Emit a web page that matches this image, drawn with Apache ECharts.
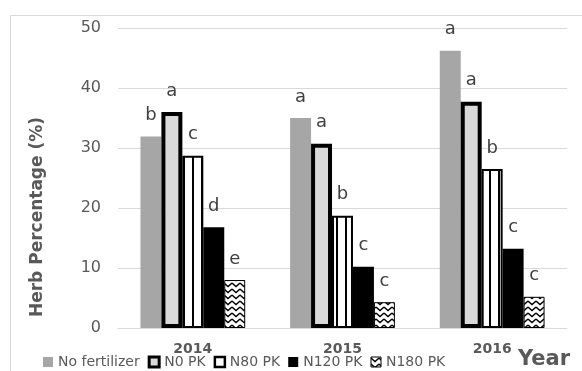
<!DOCTYPE html>
<html>
<head>
<meta charset="utf-8">
<script src="https://cdn.jsdelivr.net/npm/echarts@6/dist/echarts.min.js"></script>
<style>
  html, body { margin: 0; padding: 0; background: #fff; }
  #chart { width: 582px; height: 371px; }
</style>
</head>
<body>
<div id="chart"></div>
<script>
// Herb percentage by year and fertilizer treatment
const years = ['2014', '2015', '2016'];
const treatments = ['No fertilizer', 'N0 PK', 'N80 PK', 'N120 PK', 'N180 PK'];

const noFertilizer = [31.9, 35.0, 46.2];
const n0PK = [36.0, 30.7, 37.7];
const n80PK = [28.7, 18.7, 26.5];
const n120PK = [16.8, 10.2, 13.2];
const n180PK = [8.0, 4.3, 5.2];

// significance letters shown above each bar
const noFertilizerLetters = ['b', 'a', 'a'];
const n0PKLetters = ['a', 'a', 'a'];
const n80PKLetters = ['c', 'b', 'b'];
const n120PKLetters = ['d', 'c', 'c'];
const n180PKLetters = ['e', 'c', 'c'];

const yMin = 0, yMax = 50, yStep = 10;

const FONT = 'DejaVu Sans';
const TEXT = '#595959';

// fill patterns
function stripePattern() {
  const c = document.createElement('canvas');
  c.width = 9; c.height = 8;
  const g = c.getContext('2d');
  g.fillStyle = '#fff'; g.fillRect(0, 0, 9, 8);
  g.fillStyle = '#000'; g.fillRect(3, 0, 2, 8);
  return c;
}
function wavePattern() {
  const c = document.createElement('canvas');
  c.width = 8; c.height = 6;
  const g = c.getContext('2d');
  g.fillStyle = '#fff'; g.fillRect(0, 0, 8, 6);
  g.strokeStyle = '#000'; g.lineWidth = 1.4;
  g.beginPath();
  g.moveTo(0, 1); g.lineTo(4, 4.5); g.lineTo(8, 1);
  g.stroke();
  return c;
}
const stripes = { image: stripePattern(), repeat: 'repeat' };
const waves = { image: wavePattern(), repeat: 'repeat' };

function letterLabel(letters) {
  return {
    show: true,
    position: 'top',
    distance: 12,
    fontFamily: FONT,
    fontSize: 18,
    color: '#404040',
    formatter: p => letters[p.dataIndex]
  };
}

const styles = [
  { color: '#a6a6a6', borderColor: '#a6a6a6', borderWidth: 0 },
  { color: '#d9d9d9', borderColor: '#000', borderWidth: 4 },
  { color: stripes, borderColor: '#000', borderWidth: 2 },
  { color: '#000', borderColor: '#000', borderWidth: 0 },
  { color: waves, borderColor: '#000', borderWidth: 1 }
];
const values = [noFertilizer, n0PK, n80PK, n120PK, n180PK];
const letterSets = [noFertilizerLetters, n0PKLetters, n80PKLetters, n120PKLetters, n180PKLetters];

const legendStyles = [
  { color: '#a6a6a6', borderWidth: 0 },
  { color: '#d9d9d9', borderColor: '#000', borderWidth: 3 },
  { color: '#fff', borderColor: '#000', borderWidth: 2.5 },
  { color: '#000', borderWidth: 0 },
  { color: waves, borderColor: '#000', borderWidth: 1 }
];

const chart = echarts.init(document.getElementById('chart'), null, { renderer: 'canvas' });

chart.setOption({
  animation: false,
  backgroundColor: '#fff',
  textStyle: { fontFamily: FONT },
  grid: { left: 118, right: 15, top: 28, bottom: 43, containLabel: false },
  graphic: [
    {
      type: 'rect',
      silent: true,
      shape: { x: 10.5, y: 15.5, width: 620, height: 420 },
      style: { fill: 'none', stroke: '#d9d9d9', lineWidth: 1 },
      z: -10
    },
    {
      type: 'text',
      x: 38,
      y: 217,
      rotation: Math.PI / 2,
      style: {
        text: 'Herb Percentage (%)',
        fontFamily: FONT,
        fontSize: 17,
        fontWeight: 'bold',
        fill: TEXT,
        align: 'center',
        verticalAlign: 'middle'
      }
    }
  ],
  legend: {
    left: 41,
    top: 353,
    itemWidth: 10,
    itemHeight: 10,
    itemGap: 8,
    icon: 'rect',
    padding: 2,
    textStyle: { fontFamily: FONT, fontSize: 14, color: TEXT },
    data: treatments.map((name, i) => ({ name, itemStyle: legendStyles[i] }))
  },
  xAxis: {
    type: 'category',
    data: years,
    axisTick: { show: false },
    axisLine: { show: true, lineStyle: { color: '#d9d9d9', width: 1 } },
    axisLabel: {
      fontFamily: FONT,
      fontSize: 14,
      fontWeight: 'bold',
      color: TEXT,
      margin: 14
    },
    name: 'Year',
    nameLocation: 'end',
    nameGap: 3,
    nameTextStyle: {
      fontFamily: FONT,
      fontSize: 21,
      fontWeight: 'bold',
      color: TEXT,
      align: 'right',
      verticalAlign: 'top',
      padding: [21, 0, 0, 0]
    }
  },
  yAxis: {
    type: 'value',
    min: yMin,
    max: yMax,
    interval: yStep,
    axisLine: { show: false },
    axisTick: { show: false },
    axisLabel: { fontFamily: FONT, fontSize: 16, color: TEXT, margin: 17 },
    splitLine: { lineStyle: { color: '#d9d9d9', width: 1 } }
  },
  series: treatments.map((name, i) => ({
    name,
    type: 'bar',
    data: values[i],
    barGap: '0%',
    barCategoryGap: '30%',
    itemStyle: styles[i],
    label: letterLabel(letterSets[i])
  }))
});
</script>
</body>
</html>
